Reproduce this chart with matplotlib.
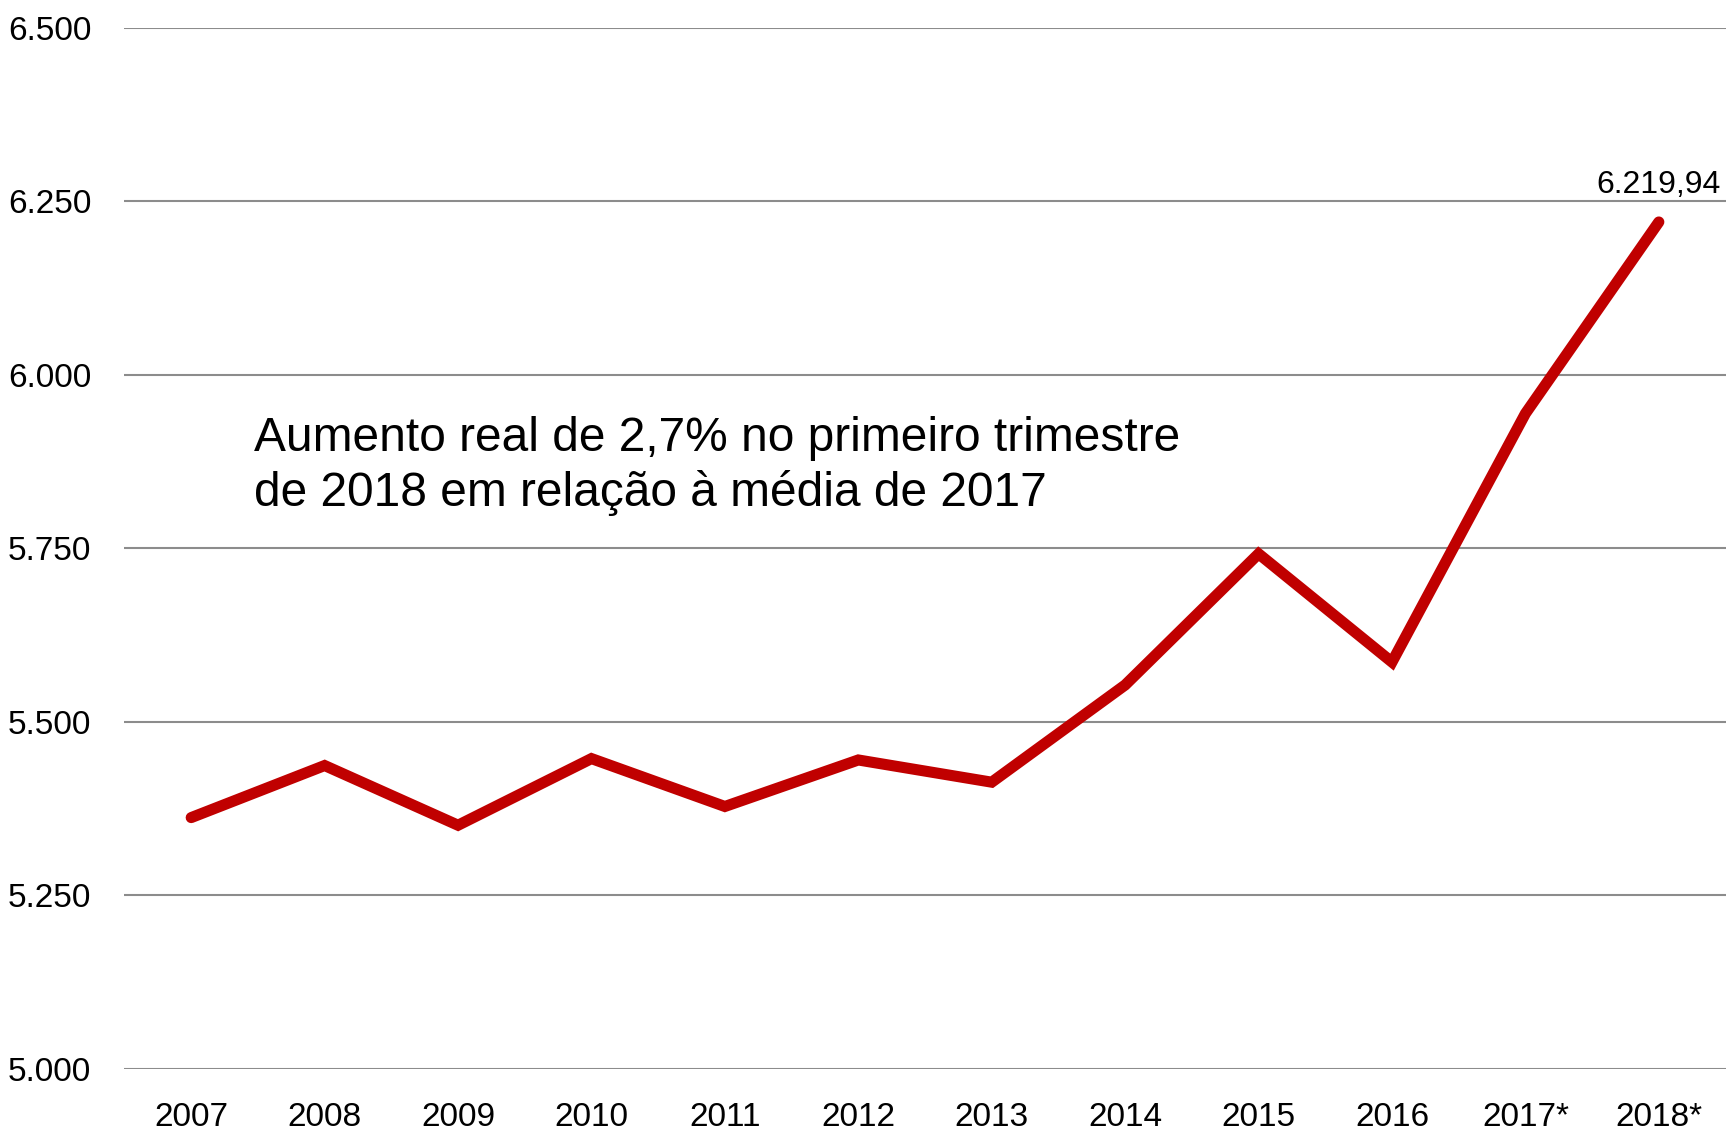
import matplotlib.pyplot as plt
import matplotlib.ticker as mticker

# dados
anos = ['2007', '2008', '2009', '2010', '2011', '2012', '2013',
        '2014', '2015', '2016', '2017*', '2018*']
valores = [5362, 5437, 5351, 5447, 5378, 5445, 5413,
           5553, 5742, 5586, 5944, 6219.94]
rotulo_final = '6.219,94'
nota = 'Aumento real de 2,7% no primeiro trimestre\nde 2018 em relação à média de 2017'

narrow = ['Liberation Sans Narrow', 'Liberation Sans', 'DejaVu Sans']

fig = plt.figure(figsize=(17.29, 11.34), dpi=100)
ax = fig.add_axes([0.072, 0.0574, 0.926, 0.9183])

x = list(range(len(anos)))
ax.plot(x, valores, color='#C00000', linewidth=8, solid_capstyle='round',
        solid_joinstyle='miter', zorder=3)

ax.set_xlim(-0.5, len(anos) - 0.5)
ax.set_ylim(5000, 6500)
ax.set_yticks([5000, 5250, 5500, 5750, 6000, 6250, 6500])
ax.yaxis.set_major_formatter(mticker.FuncFormatter(lambda v, p: f'{v:,.0f}'.replace(',', '.')))
ax.set_xticks(x)
ax.set_xticklabels(anos)

for lbl in ax.get_xticklabels() + ax.get_yticklabels():
    lbl.set_family(narrow)
    lbl.set_fontsize(24)
ax.tick_params(axis='both', length=0)
ax.tick_params(axis='y', pad=24)
ax.tick_params(axis='x', pad=24)

ax.grid(axis='y', color='#8c8c8c', linewidth=1.5)
ax.set_axisbelow(True)
for s in ax.spines.values():
    s.set_visible(False)

ax.annotate(rotulo_final, (x[-1], valores[-1]), xytext=(0, 16), textcoords='offset points',
            ha='center', va='bottom', fontsize=23, family=narrow)

ax.text(0.47, 5940, nota, ha='left', va='top', fontsize=34.5,
        family=['Liberation Sans', 'DejaVu Sans'], linespacing=1.25)

fig.savefig('out.png', dpi=100, facecolor='white')
